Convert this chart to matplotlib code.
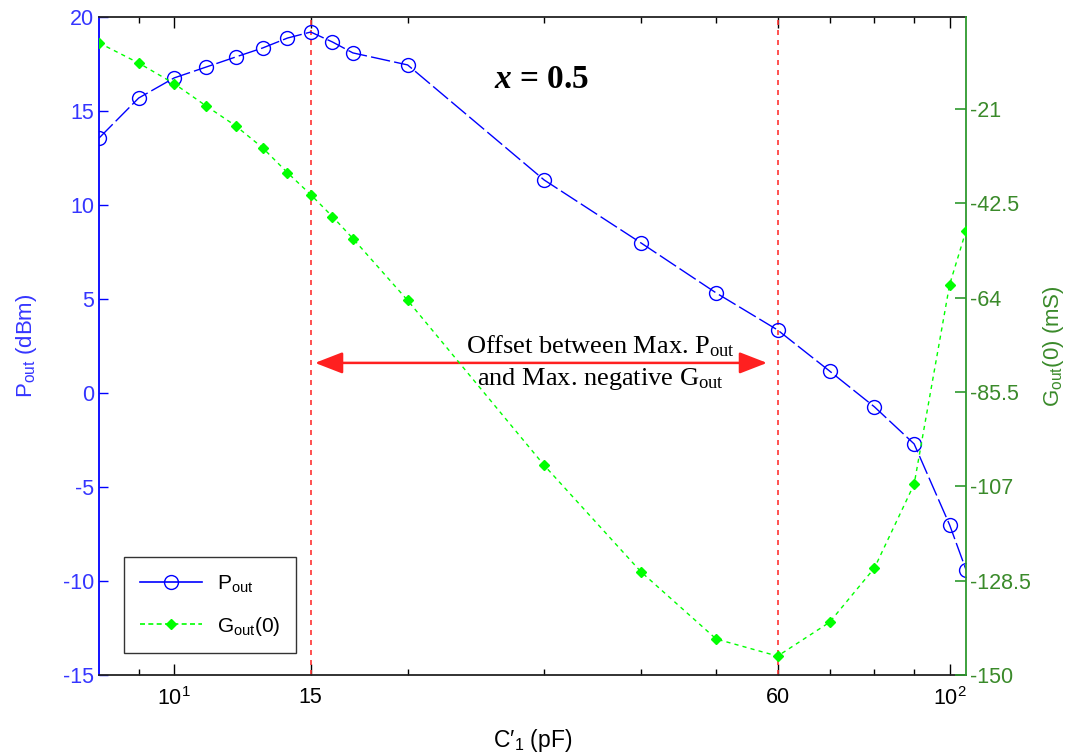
import matplotlib
matplotlib.use("Agg")
import matplotlib.pyplot as plt
from matplotlib.lines import Line2D
from matplotlib.ticker import FixedLocator, NullFormatter
import numpy as np

# ---- data ----
c1_pf = [8, 9, 10, 11, 12, 13, 14, 15, 16, 17, 20, 30, 40, 50, 60, 70, 80, 90, 100, 105]
pout_dbm = [13.56, 15.69, 16.76, 17.34, 17.87, 18.35, 18.88, 19.2, 18.67, 18.09,
            17.45, 11.33, 7.98, 5.32, 3.35, 1.17, -0.74, -2.71, -7.02, -9.41]
gout_ms = [-5.9, -10.5, -15.2, -20.3, -24.8, -29.8, -35.5, -40.5, -45.5, -50.5,
           -64.6, -102.2, -126.5, -141.8, -145.7, -138.0, -125.6, -106.5, -61.0, -48.7]
x_major_ticks = [10, 15, 60, 100]
x_major_labels = [r"$\mathregular{10^{1}}$", "15", "60", r"$\mathregular{10^{2}}$"]
x_minor_ticks = [9, 20, 30, 40, 50, 70, 80, 90]
left_ticks = [-15, -10, -5, 0, 5, 10, 15, 20]
right_ticks = [-150, -128.5, -107, -85.5, -64, -42.5, -21]
right_labels = ["-150", "-128.5", "-107", "-85.5", "-64", "-42.5", "-21"]
marked_c1 = [15, 60]

plt.rcParams['font.family'] = ['Liberation Sans', 'DejaVu Sans']
plt.rcParams['mathtext.fontset'] = 'custom'
plt.rcParams['mathtext.it'] = 'Liberation Serif:italic:bold'
plt.rcParams['mathtext.rm'] = 'Liberation Sans'
plt.rcParams['axes.unicode_minus'] = False

BLUE = '#0000FF'
BLUE_TXT = '#3535FF'
GREEN = '#00FF00'
GREEN_AX = '#2E9A2E'
GREEN_TXT = '#3A8A2A'

fig = plt.figure(figsize=(10.8, 7.55), dpi=100)
ax = fig.add_axes([0.0917, 0.106, 0.8028, 0.8715])
ax2 = ax.twinx()

# Pout line (left axis)
ax.plot(c1_pf, pout_dbm, color=BLUE, lw=1.0, linestyle=(0, (14, 3)),
        marker='o', markersize=10, markerfacecolor='none', markeredgecolor=BLUE,
        markeredgewidth=1.0, zorder=4)

# Gout line (right axis)
ax2.plot(c1_pf, gout_ms, color=GREEN, lw=1.0, linestyle=(0, (3, 3)),
         marker='D', markersize=5, markerfacecolor=GREEN, markeredgecolor=GREEN, zorder=3)

ax.set_xscale('log')
ax.set_xlim(8, 105)
ax.set_ylim(-15, 20)
ax2.set_ylim(-150, 0)

# vertical red dashed lines
for xv in marked_c1:
    ax.axvline(xv, color='#FF3333', lw=1.2, linestyle=(0, (3, 3)), zorder=2)

# arrow
ax.annotate('', xy=(58.15, 1.6), xytext=(15.19, 1.6),
            arrowprops=dict(arrowstyle='<|-|>,head_length=0.85,head_width=0.33',
                            color='#FF2020', lw=1.8, shrinkA=0, shrinkB=0,
                            mutation_scale=20), zorder=5)
ax.text(35.5, 2.5, r"Offset between Max. P$_\mathregular{out}$",
        fontfamily='Liberation Serif', fontsize=19, ha='center', va='center', zorder=6)
ax.text(35.5, 0.74, r"and Max. negative G$_\mathregular{out}$",
        fontfamily='Liberation Serif', fontsize=19, ha='center', va='center', zorder=6)

ax.text(29.8, 16.65, r"$x$ = 0.5", fontfamily='Liberation Serif', fontweight='bold',
        fontsize=24, ha='center', va='center')

# x ticks
ax.xaxis.set_major_locator(FixedLocator(x_major_ticks))
ax.set_xticklabels(x_major_labels)
ax.xaxis.set_minor_locator(FixedLocator(x_minor_ticks))
ax.xaxis.set_minor_formatter(NullFormatter())
ax.tick_params(axis='x', which='major', direction='in', length=8, width=1,
               top=True, labelsize=15.5, colors='black', pad=9)
ax.tick_params(axis='x', which='minor', direction='in', length=4.5, width=1, top=True)

# left y
ax.set_yticks(left_ticks)
ax.tick_params(axis='y', direction='in', length=6.5, width=1, colors=BLUE,
               labelcolor=BLUE_TXT, labelsize=15.5, right=False)
ax.spines['left'].set_color(BLUE)
ax.spines['left'].set_linewidth(1.3)
ax.spines['right'].set_visible(False)
for s in ['top', 'bottom']:
    ax.spines[s].set_color('#222222')
    ax.spines[s].set_linewidth(1.3)

# right y
ax2.set_yticks(right_ticks)
ax2.set_yticklabels(right_labels)
ax2.tick_params(axis='y', direction='in', length=8, width=1.2, colors=GREEN_AX,
                labelcolor=GREEN_TXT, labelsize=15.5, pad=3)
ax2.spines['right'].set_color(GREEN_AX)
ax2.spines['right'].set_linewidth(1.3)
for s in ['left', 'top', 'bottom']:
    ax2.spines[s].set_visible(False)

# labels
ax.set_ylabel(r"P$_\mathregular{out}$ (dBm)", color=BLUE_TXT, fontsize=16, labelpad=17)
ax2.set_ylabel(r"G$_\mathregular{out}$(0) (mS)", color=GREEN_TXT, fontsize=16, labelpad=7)
ax.set_xlabel(r"C′$_\mathregular{1}$ (pF)", fontsize=16.5, labelpad=12)

# legend
handles = [Line2D([], [], color=BLUE, lw=1.2, marker='o', markersize=10,
                  markerfacecolor='none', markeredgecolor=BLUE),
           Line2D([], [], color=GREEN, lw=1.2, linestyle=(0, (3, 2)), marker='D',
                  markersize=5, markerfacecolor=GREEN)]
leg = ax2.legend(handles, [r"P$_\mathregular{out}$", r"G$_\mathregular{out}$(0)"],
                 loc='lower left', bbox_to_anchor=(0.029, 0.033), borderaxespad=0,
                 fontsize=15, frameon=True, fancybox=False, edgecolor='black',
                 handlelength=3.0, borderpad=0.75, labelspacing=1.0, handletextpad=0.7)
leg.get_frame().set_linewidth(1.0)

fig.savefig('out.png', dpi=100)
